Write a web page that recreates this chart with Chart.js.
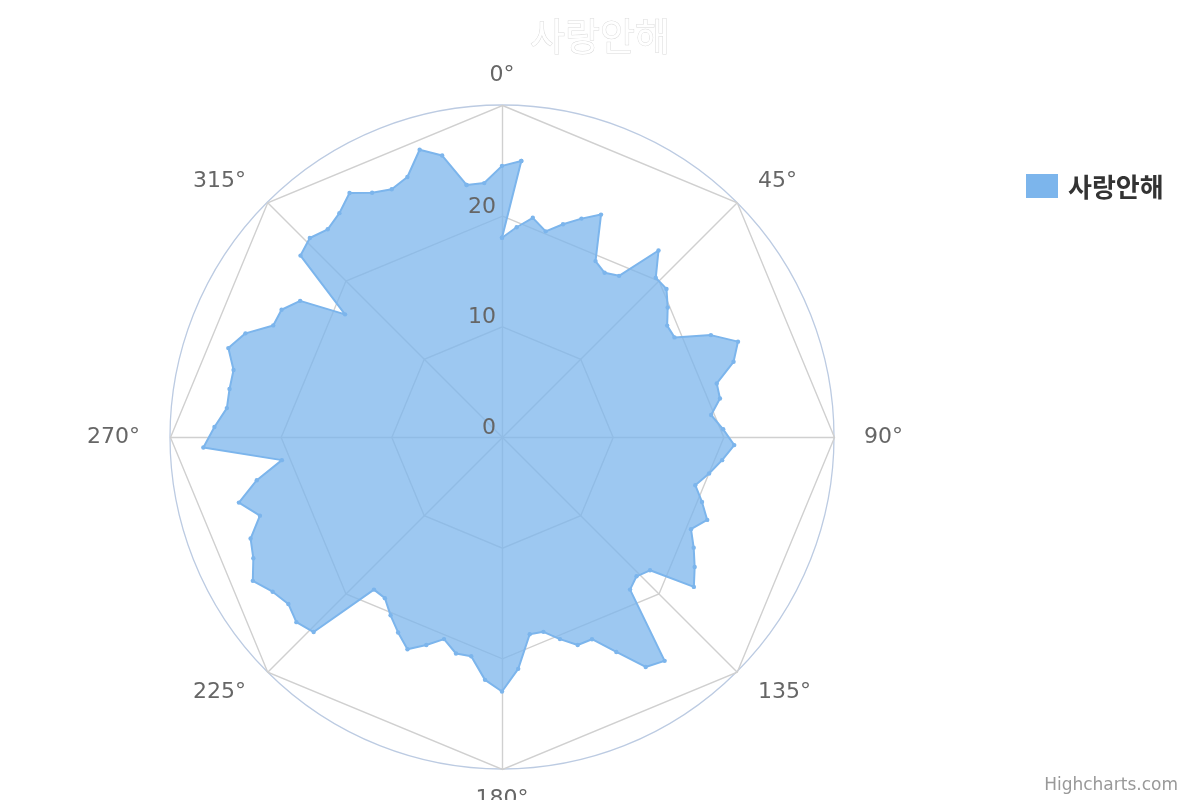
<!DOCTYPE html>
<html>
<head>
<meta charset="utf-8">
<script src="https://cdn.jsdelivr.net/npm/chart.js@4/dist/chart.umd.min.js"></script>
<style>
  html, body { margin: 0; padding: 0; background: #ffffff; }
</style>
</head>
<body>
<canvas id="polarChart" width="1200" height="800"></canvas>
<script>
    const seriesName = '사랑안해';
    const pointInterval = 4;   // degrees between points, starting at 0°

    // 92 points: the last two run past 360° and overlap the start
    const values = [
      18, 19, 20, 19, 20, 21, 22, 18, 17.5, 18,
      22, 20, 20, 19, 18, 18, 21, 23, 22, 20,
      20, 19, 20, 21, 20, 19, 18, 19, 20, 19,
      20, 21, 22, 18, 17.5, 18, 25, 24.5, 22, 20,
      20, 19, 18, 18, 21, 23, 22, 20, 20, 19,
      20, 21, 20, 19, 18, 18, 24.5, 25, 24.5, 25,
      26, 25, 24.5, 23, 24.5, 22.5, 20, 27, 26, 25,
      25, 25, 26, 25, 23, 23, 22, 18, 24.5, 25,
      24.5, 25, 26, 25, 24.5, 25, 27, 26, 23, 23,
      24.5, 25
    ];

    const angleTicks = [0, 45, 90, 135, 180, 225, 270, 315];
    const radialTicks = [0, 10, 20];
    const radialMax = 30;

    const blue = '#7cb5ec';
    const areaFill = 'rgba(124,181,236,0.75)';
    const font = "'DejaVu Sans', 'Noto Sans CJK KR', sans-serif";
    const krFont = "'Noto Sans CJK KR', 'DejaVu Sans', sans-serif";

    // one slot per 4°, the overlapping points are split into helper sets
    const slots = 360 / pointInterval;
    const last = slots - 1;
    const labels = Array.from({length: slots}, (_, i) => i * pointInterval);
    const wrap = values.slice(slots);
    const empty = () => new Array(slots).fill(null);

    // area outline: wrapped points take the first two slots ...
    const fillData = values.slice(0, slots);
    fillData[0] = wrap[0];
    fillData[1] = wrap[1];
    // ... and this triangle is cut out again (even-odd fill)
    const notchData = empty();
    notchData[0] = values[0];
    notchData[1] = wrap[1];
    notchData[2] = values[2];

    // border pieces
    const lineMain = values.slice(0, slots);
    lineMain[last] = null;
    const lineWrap = empty();
    lineWrap[last - 1] = values[last - 1];
    lineWrap[last] = values[last];
    lineWrap[0] = wrap[0];
    lineWrap[1] = wrap[1];
    const lineBack = empty();
    lineBack[0] = values[0];
    lineBack[1] = wrap[1];

    const lineStyle = {
      borderColor: blue,
      borderWidth: 2,
      borderJoinStyle: 'round',
      borderCapStyle: 'round',
      pointRadius: 2.2,
      pointBackgroundColor: blue,
      pointBorderWidth: 0,
      fill: false,
      spanGaps: false,
      order: 0
    };

    const decor = {
      id: 'decor',
      beforeDatasetsDraw(chart) {
        const s = chart.scales.r;
        const ctx = chart.ctx;
        ctx.save();
        ctx.translate(0.5, 0.5);
        ctx.strokeStyle = '#d0d0d0';
        ctx.lineWidth = 1.4;
        angleTicks.forEach(a => {
          const p = s.getPointPositionForValue(a / pointInterval, radialMax);
          ctx.beginPath();
          ctx.moveTo(s.xCenter, s.yCenter);
          ctx.lineTo(p.x, p.y);
          ctx.stroke();
        });
        [10, 20, 30].forEach(v => {
          ctx.beginPath();
          angleTicks.forEach((a, k) => {
            const p = s.getPointPositionForValue(a / pointInterval, v);
            if (k) ctx.lineTo(p.x, p.y); else ctx.moveTo(p.x, p.y);
          });
          ctx.closePath();
          ctx.stroke();
        });
        ctx.restore();
      },
      afterDatasetsDraw(chart) {
        const s = chart.scales.r;
        const ctx = chart.ctx;
        ctx.save();
        ctx.font = '22px ' + font;
        ctx.fillStyle = '#666666';
        ctx.textAlign = 'right';
        ctx.textBaseline = 'alphabetic';
        radialTicks.forEach(v => {
          const d = s.getDistanceFromCenterForValue(v);
          ctx.fillText(String(v), s.xCenter - 6, s.yCenter - d - 3);
        });
        ctx.restore();
      },
      afterDraw(chart) {
        const s = chart.scales.r;
        const ctx = chart.ctx;
        ctx.save();

        // angle labels
        ctx.font = '22px ' + font;
        ctx.fillStyle = '#666666';
        ctx.textBaseline = 'alphabetic';
        angleTicks.forEach(a => {
          const p = s.getPointPosition(a / pointInterval, s.drawingArea + 30);
          ctx.textAlign = (a === 0 || a === 180) ? 'center' : (a < 180 ? 'left' : 'right');
          ctx.fillText(a + '°', p.x, p.y + 5.5);
        });

        // title
        ctx.font = '38px ' + krFont;
        ctx.textAlign = 'center';
        ctx.textBaseline = 'middle';
        ctx.fillStyle = '#ffffff';
        ctx.strokeStyle = 'rgba(0,0,0,0.16)';
        ctx.lineWidth = 1;
        ctx.strokeText(seriesName, 600, 36);
        ctx.fillText(seriesName, 600, 36);

        // legend
        ctx.fillStyle = blue;
        ctx.fillRect(1026, 174, 32, 24);
        ctx.font = 'bold 26px ' + krFont;
        ctx.fillStyle = '#333333';
        ctx.textAlign = 'left';
        ctx.fillText(seriesName, 1068, 187);

        // credits
        ctx.font = '17px ' + font;
        ctx.fillStyle = '#999999';
        ctx.textAlign = 'right';
        ctx.textBaseline = 'alphabetic';
        ctx.fillText('Highcharts.com', 1178, 790);
        ctx.restore();
      }
    };

    let polarChart = new Chart(document.getElementById('polarChart'), {
      type: 'radar',
      data: {
        labels: labels,
        datasets: [
          {
            label: seriesName,
            data: fillData,
            backgroundColor: areaFill,
            borderWidth: 0,
            pointRadius: 0,
            fill: 1,
            order: 2
          },
          {
            label: 'notch',
            data: notchData,
            borderWidth: 0,
            pointRadius: 0,
            fill: false,
            spanGaps: true,
            order: 2
          },
          { ...lineStyle, data: lineMain },
          { ...lineStyle, data: lineWrap },
          { ...lineStyle, data: lineBack }
        ]
      },
      options: {
        responsive: false,
        animation: false,
        events: [],
        layout: {
          padding: { left: 170, right: 365, top: 105, bottom: 31 }
        },
        elements: {
          line: { tension: 0 }
        },
        plugins: {
          legend: { display: false },
          title: { display: false },
          tooltip: { enabled: false }
        },
        scales: {
          r: {
            min: 0,
            max: radialMax,
            ticks: { display: false, stepSize: 10 },
            grid: {
              circular: true,
              color: (c) => c.tick && c.tick.value === radialMax ? '#bccbe2' : 'rgba(0,0,0,0)',
              lineWidth: 1.3
            },
            angleLines: { display: false },
            pointLabels: { display: false }
          }
        }
      },
      plugins: [decor]
    });
</script>
</body>
</html>
